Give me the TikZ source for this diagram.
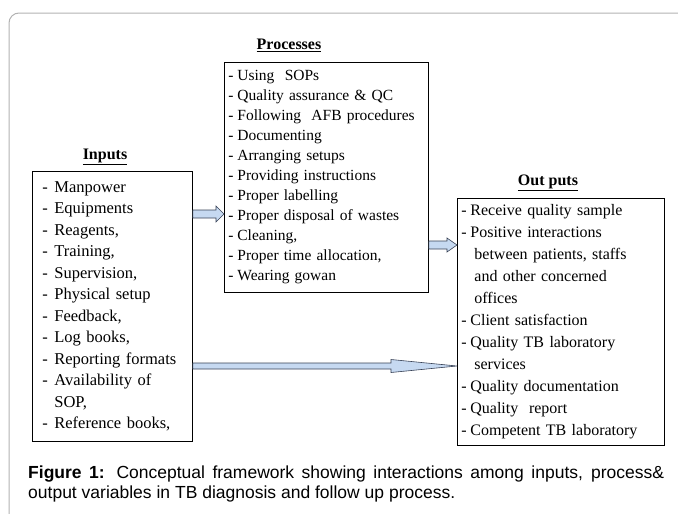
\documentclass[tikz,border=0pt]{standalone}
\usepackage{fontspec}
\setmainfont{Liberation Serif}
\newfontfamily\capfont{Liberation Sans}
\usetikzlibrary{calc}

\definecolor{arrowblue}{RGB}{198,217,241}
\definecolor{arrowline}{RGB}{55,65,85}
\definecolor{framegray}{RGB}{178,178,178}

\tikzset{
  listbox/.style={draw,line width=0.8pt,anchor=north west,align=left,inner ysep=0pt},
  heading/.style={font=\fontsize{16}{18}\selectfont\bfseries},
  blockarrow/.style={draw=arrowline,fill=arrowblue,line width=0.6pt,line join=miter}
}

% list item with a leading dash
\newcommand\itm[2][9pt]{\makebox[#1][l]{-}#2}
% horizontal block arrow: start, tip, shaft half, head half, head length
\newcommand\fatarrow[5]{%
  \draw[blockarrow] ($(#1)+(0,-#3)$) -- ($(#2)+(-#5,-#3)$) -- ($(#2)+(-#5,-#4)$)
    -- (#2) -- ($(#2)+(-#5,#4)$) -- ($(#2)+(-#5,#3)$) -- ($(#1)+(0,#3)$) -- cycle;}

\begin{document}
\begin{tikzpicture}[x=1pt,y=-1pt]
  \useasboundingbox (0,0) rectangle (678,514);
  \draw[framegray,line width=1pt,rounded corners=10pt] (9,514) -- (9,13) -- (678,13);

  % the three lists
  \node[heading] (proct) at (289,45) {\underline{Processes}};
  \node[listbox,minimum width=204pt,minimum height=230pt,text width=196pt,inner xsep=4pt,
        font=\fontsize{15.5}{20}\selectfont] (proc) at (224,62) {%
    \itm{Using\ \ SOPs}\\
    \itm{Quality assurance \& QC}\\
    \itm{Following\ \ AFB procedures}\\
    \itm{Documenting}\\
    \itm{Arranging setups}\\
    \itm{Providing instructions}\\
    \itm{Proper labelling}\\
    \itm{Proper disposal of wastes}\\
    \itm{Cleaning,}\\
    \itm{Proper time allocation,}\\
    \itm{Wearing gowan}};

  \node[heading] (inpt) at (105,157) {\underline{Inputs}};
  \node[listbox,minimum width=160pt,minimum height=270pt,text width=140pt,inner xsep=10pt,
        font=\fontsize{16.5}{21.5}\selectfont] (inp) at (32,171) {%
    \itm[12pt]{Manpower}\\
    \itm[12pt]{Equipments}\\
    \itm[12pt]{Reagents,}\\
    \itm[12pt]{Training,}\\
    \itm[12pt]{Supervision,}\\
    \itm[12pt]{Physical setup}\\
    \itm[12pt]{Feedback,}\\
    \itm[12pt]{Log books,}\\
    \itm[12pt]{Reporting formats}\\
    \itm[12pt]{Availability of}\\
    \hspace*{12pt}SOP,\\
    \itm[12pt]{Reference books,}};

  \node[heading] (outt) at (548,183) {\underline{Out puts}};
  \node[listbox,minimum width=207pt,minimum height=247pt,text width=199pt,inner xsep=4pt,
        font=\fontsize{16}{22}\selectfont] (out) at (457,198) {%
    \itm{Receive quality sample}\\
    \itm{Positive interactions}\\
    \hspace*{13pt}between patients, staffs\\
    \hspace*{13pt}and other concerned\\
    \hspace*{13pt}offices\\
    \itm{Client satisfaction}\\
    \itm{Quality TB laboratory}\\
    \hspace*{13pt}services\\
    \itm{Quality documentation}\\
    \itm{Quality\ \ report}\\
    \itm{Competent TB laboratory}};

  % arrows between the lists
  \coordinate (a1) at (inp.east |- 0,214);
  \coordinate (b1) at (proc.west |- 0,214);
  \coordinate (a2) at (proc.east |- 0,245);
  \coordinate (b2) at (out.west |- 0,245);
  \coordinate (a3) at (inp.east |- 0,366);
  \coordinate (b3) at (out.west |- 0,366);
  \fatarrow{a1}{b1}{4}{8}{8}
  \fatarrow{a2}{b2}{4}{7}{10}
  \fatarrow{a3}{b3}{3}{6.5}{66}

  % caption, first line set full width
  \node[anchor=north west,align=left,inner sep=0pt,
        font=\capfont\fontsize{17.5}{20}\selectfont] (cap) at (28,466) {%
    \makebox[636pt][s]{\textbf{Figure 1:} Conceptual framework showing interactions among inputs, process\&}\\
    output variables in TB diagnosis and follow up process.};
\end{tikzpicture}
\end{document}
